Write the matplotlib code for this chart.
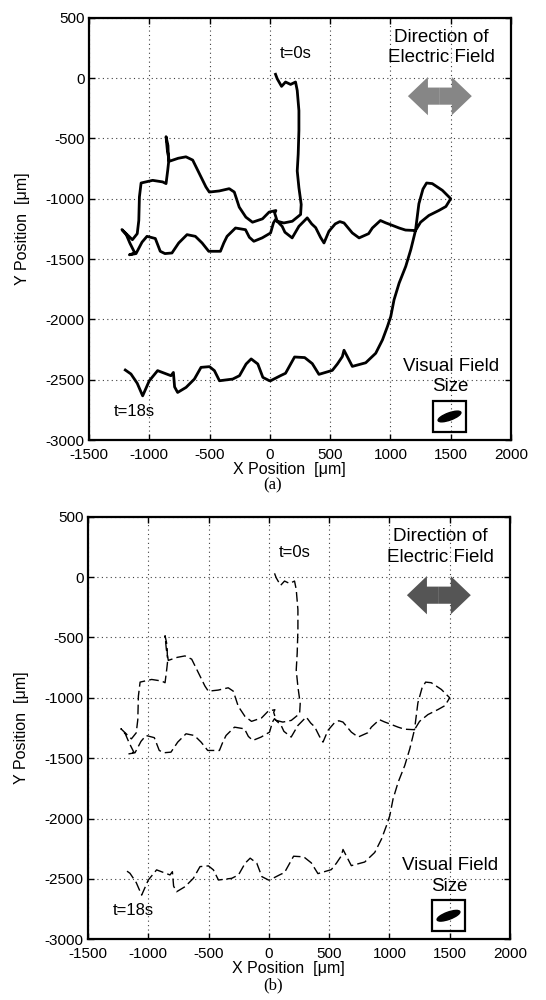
import matplotlib
matplotlib.use("Agg")
import matplotlib.pyplot as plt
from matplotlib.patches import Ellipse, Rectangle

plt.rcParams['font.family'] = ['Liberation Sans', 'DejaVu Sans']
plt.rcParams['axes.unicode_minus'] = False

# Trajectory of the cell (x, y in micrometres), from t=0s to t=18s
path_x = [47, 61, 97, 130, 172, 213, 227, 241, 241, 235, 227, 241, 260, 255, 186, 116, 61, 40, 50,
          -6, -61, -144, -199, -254, -295, -337, -420, -502, -530, -585, -640, -696, -760, -834,
          -850, -861, -845, -840, -847, -861, -889, -972, -1068, -1082, -1087, -1100, -1140, -1227,
          -1190, -1160, -1120, -1165, -1110,
          -1060, -1019, -950, -909, -870, -812, -756, -687, -618, -562, -507, -410, -382, -355,
          -285, -202, -170, -133, -64, 6, 30, 47, 102, 125, 185, 241, 310, 347, 380, 420, 449,
          490, 542, 580, 615, 684, 740, 819, 850, 917, 960, 1000, 1072, 1125, 1208,
          1236, 1270, 1300, 1347, 1431, 1500, 1460, 1403, 1319, 1250, 1208,
          1169, 1127, 1072, 1030, 1003, 975, 934, 878, 795, 684, 615, 601, 560, 518, 407, 352,
          289, 205, 130, 92, 6, -3, -58, -100, -155, -197, -252, -308, -418, -460, -501, -571,
          -626, -695, -765, -790, -800, -820, -931, -1000, -1055, -1100, -1152, -1199]
path_y = [31, -6, -69, -33, -53, -33, -103, -270, -436, -631, -770, -909, -1048, -1131, -1187,
          -1201, -1187, -1120, -1098,
          -1111, -1167, -1195, -1153, -1070, -945, -917, -936, -945, -903, -792, -680, -653,
          -665, -690, -600, -486, -560, -700, -764, -875, -861, -848, -870, -986, -1181, -1290,
          -1340, -1256, -1300, -1370, -1450, -1465, -1455,
          -1360, -1312, -1330, -1436, -1455, -1450, -1367, -1298, -1312, -1367, -1436, -1436,
          -1367, -1312, -1243, -1257, -1320, -1353, -1325, -1284, -1200, -1173, -1229, -1278,
          -1325, -1229, -1159, -1209, -1240, -1320, -1367, -1270, -1209, -1190, -1201, -1284,
          -1325, -1290, -1243, -1181, -1200, -1215, -1243, -1260, -1264,
          -1042, -920, -870, -875, -931, -1000, -1065, -1097, -1139, -1195, -1264,
          -1422, -1561, -1700, -1838, -1976, -2060, -2170, -2281, -2360, -2390, -2256, -2309,
          -2370, -2423, -2456, -2367, -2317, -2312, -2447, -2465, -2509, -2509, -2481, -2370,
          -2328, -2370, -2467, -2495, -2509, -2425, -2392, -2398, -2495, -2564, -2606, -2560,
          -2440, -2467, -2425, -2509, -2634, -2530, -2453, -2420]

x_ticks = [-1500, -1000, -500, 0, 500, 1000, 1500, 2000]
y_ticks = [-3000, -2500, -2000, -1500, -1000, -500, 0, 500]
panel_labels = ['(a)', '(b)']

fig = plt.figure(figsize=(5.46, 10), dpi=100)
ax1 = fig.add_axes([89 / 546, 1 - 440 / 1000, 422 / 546, 422.3 / 1000])
ax2 = fig.add_axes([88 / 546, 1 - 939.3 / 1000, 422 / 546, 422.6 / 1000])


def style(ax):
    ax.set_xlim(-1500, 2000)
    ax.set_ylim(-3000, 500)
    ax.set_xticks(x_ticks)
    ax.set_yticks(y_ticks)
    ax.grid(True, color='0.25', linestyle=(0, (1, 3)), linewidth=0.8)
    ax.tick_params(direction='in', length=4, width=1, top=True, right=True,
                   labelsize=11, colors='black')
    ax.tick_params(axis='x', pad=5.5)
    ax.tick_params(axis='y', pad=3)
    for s in ax.spines.values():
        s.set_linewidth(1.6)
    ax.set_xlabel('X Position  [μm]', fontsize=11.5)
    ax.set_ylabel('Y Position  [μm]', fontsize=11.5)
    ax.xaxis.set_label_coords(0.476, -0.052)
    ax.yaxis.set_label_coords(-0.14, 0.5)


for i, (ax, arrow_col) in enumerate([(ax1, '#868686'), (ax2, '#555555')]):
    style(ax)
    if i == 0:
        ax.plot(path_x, path_y, color='black', lw=2.0, solid_joinstyle='round', zorder=3)
    else:
        ax.plot(path_x, path_y, color='black', lw=1.0, dashes=(7, 3), zorder=3)
    ax.text(215, 200, 't=0s', fontsize=12, ha='center', va='center')
    ax.text(-1125, -2760, 't=18s', fontsize=12, ha='center', va='center')
    ax.text(1420, 250, 'Direction of\nElectric Field', fontsize=13.5, ha='center',
            va='center', linespacing=1.25)
    ax.text(1500, -2475, 'Visual Field\nSize', fontsize=13.5, ha='center',
            va='center', linespacing=1.25)
    # double-headed arrow showing direction of field
    for d in (1, -1):
        ax.arrow(1410, -150, d * 265, 0, width=142, head_width=317, head_length=166,
                 length_includes_head=True, color=arrow_col, lw=0, zorder=4)
    ax.add_patch(Rectangle((1355, -2930), 270, 255, fill=False, lw=1.6,
                           edgecolor='black', zorder=4))
    ax.add_patch(Ellipse((1490, -2805), 200, 60, angle=20, color='black', zorder=4))
    fig.text(0.5, 1 - (485 if i == 0 else 985) / 1000, panel_labels[i],
             family='Liberation Serif', fontsize=12, ha='center', va='center')

fig.savefig('out.png', dpi=100)
